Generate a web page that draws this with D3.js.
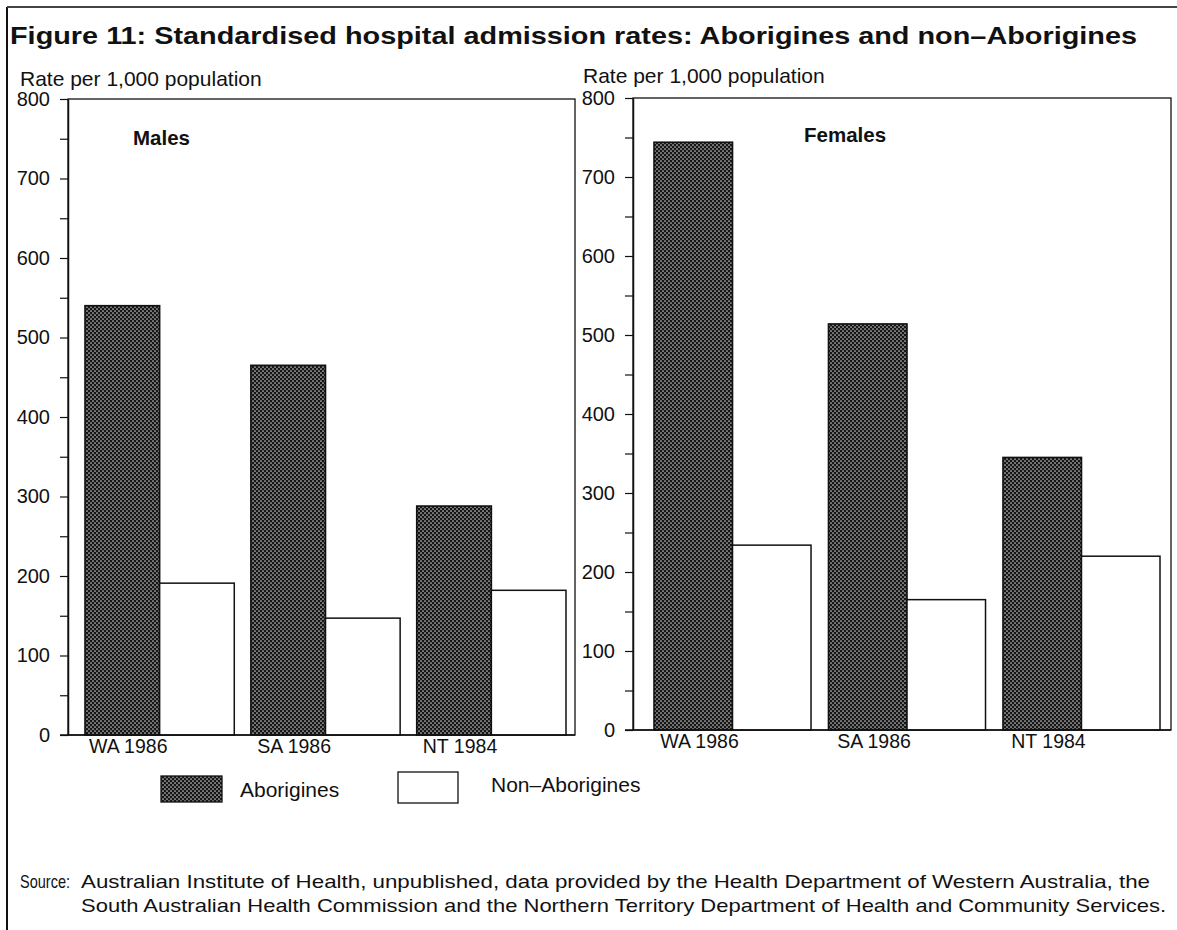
<!DOCTYPE html>
<html>
<head>
<meta charset="utf-8">
<script src="https://cdn.jsdelivr.net/npm/d3@7"></script>
<style>
  html, body { margin: 0; padding: 0; background: #fff; }
  svg { display: block; font-family: "Liberation Sans", Arial, Helvetica, sans-serif; }
</style>
</head>
<body>
<svg id="chart" width="1177" height="930"></svg>
<script>
// Admission rates per 1,000 population
const categories = ["WA 1986", "SA 1986", "NT 1984"];
const seriesNames = ["Aborigines", "Non\u2013Aborigines"];
const malesAborigines = [540, 465, 288];
const malesNonAborigines = [191, 147, 182];
const femalesAborigines = [744, 514, 345];
const femalesNonAborigines = [234, 165, 220];
const yTickValues = [0, 50, 100, 150, 200, 250, 300, 350, 400, 450, 500, 550, 600, 650, 700, 750, 800];

const svg = d3.select("#chart");
const W = 1177, H = 930;
const ink = "#111";

// Stippled fill used for the Aborigines bars
const defs = svg.append("defs");
const pat = defs.append("pattern")
  .attr("id", "stipple")
  .attr("patternUnits", "userSpaceOnUse")
  .attr("width", 4).attr("height", 4);
pat.append("rect").attr("width", 4).attr("height", 4).attr("fill", "#161616");
pat.append("circle").attr("cx", 1).attr("cy", 1).attr("r", 0.85).attr("fill", "#c8c8c8");
pat.append("circle").attr("cx", 3).attr("cy", 3).attr("r", 0.85).attr("fill", "#c8c8c8");

// Page frame
svg.append("line").attr("x1", 7).attr("x2", 7).attr("y1", 7).attr("y2", H)
  .attr("stroke", ink).attr("stroke-width", 2);
svg.append("line").attr("x1", 7).attr("x2", W).attr("y1", 7).attr("y2", 7)
  .attr("stroke", "#444").attr("stroke-width", 2);

// Title
svg.append("text")
  .attr("x", 10).attr("y", 44)
  .attr("font-size", 24.5).attr("font-weight", "bold").attr("fill", ink)
  .attr("textLength", 1127).attr("lengthAdjust", "spacingAndGlyphs")
  .text("Figure 11: Standardised hospital admission rates: Aborigines and non\u2013Aborigines");

const panels = [
  { label: "Males", abor: malesAborigines, non: malesNonAborigines,
    x0: 68, x1: 575, y0: 735, y1: 99, padL: 17, padR: 9,
    unitX: 20, unitY: 86, labelX: 133, labelY: 145, catDy: 18 },
  { label: "Females", abor: femalesAborigines, non: femalesNonAborigines,
    x0: 633, x1: 1171, y0: 730, y1: 98, padL: 21, padR: 11,
    unitX: 583, unitY: 83, labelX: 804, labelY: 142, catDy: 18 }
];

panels.forEach(p => {
  const g = svg.append("g");
  const y = d3.scaleLinear().domain([0, 800]).range([p.y0, p.y1]);
  const x = d3.scaleBand().domain(categories)
    .range([p.x0 + p.padL, p.x1 - p.padR])
    .paddingInner(0.1).paddingOuter(0);
  const bw = x.bandwidth();

  // Plot frame
  g.append("rect")
    .attr("x", p.x0).attr("y", p.y1)
    .attr("width", p.x1 - p.x0).attr("height", p.y0 - p.y1)
    .attr("fill", "none").attr("stroke", ink).attr("stroke-width", 1.3);

  // Y axis
  const axis = d3.axisLeft(y)
    .tickValues(yTickValues)
    .tickFormat(d => d % 100 === 0 ? d : "")
    .tickSize(8).tickSizeOuter(0).tickPadding(10);
  const ax = g.append("g").attr("transform", `translate(${p.x0},0)`).call(axis);
  ax.select(".domain").attr("stroke", ink).attr("stroke-width", 1.5);
  ax.selectAll(".tick line").attr("stroke", ink).attr("stroke-width", 1.2);
  ax.selectAll(".tick text")
    .attr("font-size", 20).attr("fill", ink)
    .attr("font-family", "Liberation Sans, Arial, sans-serif");

  // Unit caption
  g.append("text").attr("x", p.unitX).attr("y", p.unitY)
    .attr("font-size", 21).attr("fill", ink)
    .text("Rate per 1,000 population");

  // Panel label
  g.append("text").attr("x", p.labelX).attr("y", p.labelY)
    .attr("font-size", 20.5).attr("font-weight", "bold").attr("fill", ink)
    .text(p.label);

  // Aborigines bars
  g.selectAll(".abor").data(categories).join("rect")
    .attr("class", "abor")
    .attr("x", d => x(d))
    .attr("y", (d, i) => y(p.abor[i]))
    .attr("width", bw / 2)
    .attr("height", (d, i) => y(0) - y(p.abor[i]))
    .attr("fill", "url(#stipple)")
    .attr("stroke", ink).attr("stroke-width", 1.6);

  // Non-Aborigines bars
  g.selectAll(".non").data(categories).join("rect")
    .attr("class", "non")
    .attr("x", d => x(d) + bw / 2)
    .attr("y", (d, i) => y(p.non[i]))
    .attr("width", bw / 2)
    .attr("height", (d, i) => y(0) - y(p.non[i]))
    .attr("fill", "#fff")
    .attr("stroke", ink).attr("stroke-width", 1.5);

  // Baseline
  g.append("line").attr("x1", p.x0 - 8).attr("x2", p.x1)
    .attr("y1", y(0)).attr("y2", y(0))
    .attr("stroke", ink).attr("stroke-width", 1.5);

  // Category labels
  g.selectAll(".cat").data(categories).join("text")
    .attr("class", "cat")
    .attr("x", d => x(d) + bw * 0.29)
    .attr("y", p.y0 + p.catDy)
    .attr("text-anchor", "middle")
    .attr("font-size", 19.5).attr("fill", ink)
    .text(d => d);
});

// Legend
const legend = [
  { name: seriesNames[0], fill: "url(#stipple)", sx: 161, sy: 776, sw: 61, sh: 26, tx: 240, ty: 797 },
  { name: seriesNames[1], fill: "#fff", sx: 398, sy: 772, sw: 60, sh: 31, tx: 491, ty: 792 }
];
const lg = svg.append("g");
legend.forEach(l => {
  lg.append("rect").attr("x", l.sx).attr("y", l.sy).attr("width", l.sw).attr("height", l.sh)
    .attr("fill", l.fill).attr("stroke", ink).attr("stroke-width", 1.3);
  lg.append("text").attr("x", l.tx).attr("y", l.ty)
    .attr("font-size", 21).attr("fill", ink).text(l.name);
});

// Source note (narrow face)
const src = svg.append("g").attr("font-size", 19).attr("fill", ink);
src.append("text").attr("x", 20).attr("y", 888)
  .attr("textLength", 50).attr("lengthAdjust", "spacingAndGlyphs")
  .text("Source:");
src.append("text").attr("x", 81).attr("y", 888)
  .attr("textLength", 1069).attr("lengthAdjust", "spacingAndGlyphs")
  .text("Australian Institute of Health, unpublished, data provided by the Health Department of Western Australia, the");
src.append("text").attr("x", 81).attr("y", 912)
  .attr("textLength", 1085).attr("lengthAdjust", "spacingAndGlyphs")
  .text("South Australian Health Commission and the Northern Territory Department of Health and Community Services.");
</script>
</body>
</html>
